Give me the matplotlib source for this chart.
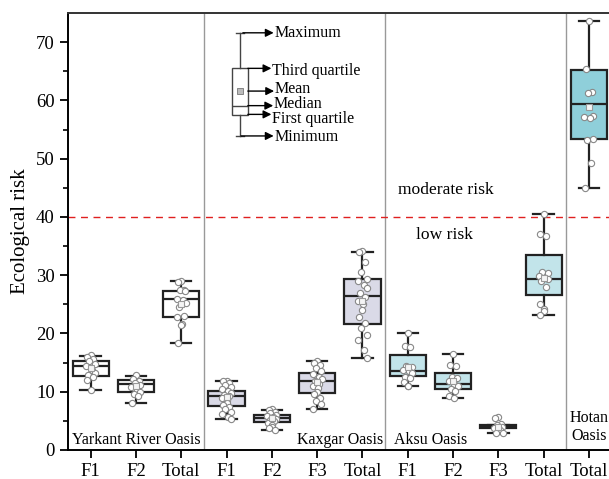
import matplotlib
matplotlib.use("Agg")
import matplotlib.pyplot as plt
import numpy as np

plt.rcParams['font.family'] = ['Liberation Serif', 'DejaVu Serif']

# groups: label, oasis, box stats (whislo, q1, med, q3, whishi, mean), sample points
labels = ["F1", "F2", "Total", "F1", "F2", "F3", "Total", "F1", "F2", "F3", "Total", "Total"]
oasis = ["Yarkant", "Yarkant", "Yarkant", "Kaxgar", "Kaxgar", "Kaxgar", "Kaxgar",
         "Aksu", "Aksu", "Aksu", "Aksu", "Hotan"]
whislo = [10.3, 8.0, 18.3, 5.4, 3.4, 7.0, 15.8, 10.9, 8.9, 2.9, 23.1, 45.0]
q1 = [12.7, 10.0, 22.8, 7.5, 4.8, 9.7, 21.7, 12.7, 10.5, 3.7, 26.6, 53.4]
med = [14.5, 11.3, 25.9, 9.2, 5.5, 11.8, 26.5, 13.6, 11.3, 3.9, 29.4, 59.3]
q3 = [15.3, 12.0, 27.3, 10.2, 6.0, 13.3, 29.3, 16.3, 13.3, 4.3, 33.4, 65.3]
whishi = [16.2, 12.7, 29.0, 11.8, 6.9, 15.2, 34.0, 20.1, 16.5, 4.3, 40.5, 73.6]
means = [14.1, 11.0, 25.0, 9.1, 5.5, 11.7, 25.6, 14.3, 11.9, 4.0, 29.5, 58.8]

points = [
    [16.3, 16.0, 15.6, 15.3, 14.8, 14.4, 13.8, 13.3, 12.9, 12.6, 12.0, 10.3],
    [12.8, 12.2, 11.9, 11.5, 11.2, 10.8, 10.3, 10.0, 9.6, 9.3, 8.0],
    [29.0, 28.9, 27.5, 27.4, 27.3, 26.0, 25.8, 25.3, 24.5, 23.0, 22.8, 21.6, 21.5, 18.3],
    [11.9, 11.8, 11.5, 11.2, 10.8, 10.5, 10.2, 9.8, 9.5, 9.2, 8.9, 8.5, 8.1, 7.8, 7.4,
     7.0, 6.6, 6.2, 5.7, 5.4],
    [7.0, 6.9, 6.6, 6.3, 6.0, 5.8, 5.6, 5.4, 5.2, 4.9, 4.6, 4.3, 4.0, 3.7, 3.4],
    [15.2, 15.0, 14.6, 14.1, 13.6, 13.0, 12.6, 12.2, 11.8, 11.4, 11.0, 10.6, 10.0, 9.6,
     9.0, 8.4, 7.9, 7.0],
    [34.1, 33.9, 32.3, 30.6, 29.4, 29.0, 28.3, 27.8, 27.0, 26.2, 25.6, 25.0, 24.0, 22.8,
     21.8, 21.0, 19.7, 18.9, 17.2, 15.8],
    [20.1, 17.8, 17.7, 14.5, 14.2, 13.8, 13.5, 13.2, 12.6, 12.3, 11.7, 11.0, 10.9],
    [16.5, 14.6, 14.5, 12.5, 12.3, 11.9, 11.4, 11.0, 10.5, 10.1, 9.2, 8.9],
    [5.6, 5.5, 4.5, 4.3, 4.0, 3.8, 3.5, 3.0, 2.9],
    [40.5, 37.0, 36.8, 30.5, 30.3, 29.9, 29.6, 29.4, 29.0, 28.0, 25.0, 24.2, 23.8, 23.1],
    [73.6, 65.4, 61.5, 61.3, 57.3, 57.2, 57.0, 53.4, 53.2, 49.2, 45.0],
]

fills = {"Yarkant": "white", "Kaxgar": "#dadae7", "Aksu": "#c2e4ea", "Hotan": "#8fcfda"}

fig = plt.figure(figsize=(6.09, 4.79), dpi=100)
ax = fig.add_axes([68/609, 29/479, 543.6/609, 437/479])

pos = np.arange(len(labels))
stats = []
for i in range(len(labels)):
    stats.append(dict(whislo=whislo[i], q1=q1[i], med=med[i], q3=q3[i],
                      whishi=whishi[i], mean=means[i], fliers=[]))

edge = "#222222"
bp = ax.bxp(stats, positions=pos, widths=0.8, capwidths=0.45, patch_artist=True,
            showmeans=False, showfliers=False,
            boxprops=dict(edgecolor=edge, linewidth=1.6),
            whiskerprops=dict(color=edge, linewidth=1.6),
            capprops=dict(color=edge, linewidth=1.6),
            medianprops=dict(color=edge, linewidth=1.6))
for b, o in zip(bp['boxes'], oasis):
    b.set_facecolor(fills[o])

jit = np.array([0.0, -0.07, 0.06, -0.03, 0.09, -0.1, 0.03, 0.1, -0.05, 0.05, -0.09, 0.01])
for i, pts in enumerate(points):
    off = np.resize(jit, len(pts))
    ax.plot(pos[i] + off, pts, 'o', ms=4.5, mfc='white', mec='#888888', mew=0.8, zorder=4)
    ax.plot(pos[i], means[i], 's', ms=5, mfc='#f4f4f4', mec='#999999', mew=0.8, zorder=5)

# separators and threshold
for xs in [2.5, 6.5, 10.5]:
    ax.axvline(xs, color='#999999', lw=1)
ax.axhline(40, color='#e02020', lw=1, ls=(0, (5, 4)))

ax.text(7.84, 44.6, "moderate risk", ha='center', va='center', fontsize=12.6)
ax.text(7.82, 36.9, "low risk", ha='center', va='center', fontsize=12.6)

ax.text(1.0, 1.8, "Yarkant River Oasis", ha='center', va='center', fontsize=11.5)
ax.text(5.5, 1.8, "Kaxgar Oasis", ha='center', va='center', fontsize=11.5)
ax.text(6.7, 1.8, "Aksu Oasis", ha='left', va='center', fontsize=11.5)
ax.text(11.0, 4.0, "Hotan\nOasis", ha='center', va='center', fontsize=11.5,
        linespacing=1.15)

# schematic legend box
leg = [dict(whislo=53.9, q1=57.5, med=59.1, q3=65.5, whishi=71.6, mean=61.6, fliers=[])]
lb = ax.bxp(leg, positions=[3.29], widths=0.35, capwidths=0.17, patch_artist=True,
            showfliers=False,
            boxprops=dict(edgecolor='#444444', linewidth=1, facecolor='white'),
            whiskerprops=dict(color='#444444', linewidth=1),
            capprops=dict(color='#444444', linewidth=1),
            medianprops=dict(color='#444444', linewidth=1))
ax.plot(3.29, 61.6, 's', ms=4, mfc='#bbbbbb', mec='#777777', mew=0.6)
ann = [("Maximum", 71.6, 71.6, 3.36, 4.04),
       ("Third quartile", 65.5, 65.1, 3.47, 3.99),
       ("Mean", 61.6, 61.9, 3.47, 4.05),
       ("Median", 59.1, 59.3, 3.47, 4.03),
       ("First quartile", 57.6, 56.8, 3.47, 3.99),
       ("Minimum", 53.9, 53.7, 3.32, 4.04)]
for txt, ya, yt, x0, x1 in ann:
    ax.annotate("", xy=(x1, ya), xytext=(x0, ya),
                arrowprops=dict(arrowstyle='-|>', color='black', lw=1,
                                mutation_scale=12, shrinkA=0, shrinkB=0))
    ax.text(x1 + 0.01, yt, txt, ha='left', va='center', fontsize=11.5)

ax.set_xlim(-0.5, 11.5)
ax.set_ylim(0, 75)
ax.set_xticks(pos)
ax.set_xticklabels(labels, fontsize=13.5)
ax.set_yticks(np.arange(0, 71, 10))
ax.set_yticks(np.arange(0, 75, 5), minor=True)
ax.tick_params(axis='y', labelsize=13.5, width=1.3, length=6)
ax.tick_params(axis='y', which='minor', width=1.2, length=3.5)
ax.tick_params(axis='x', width=1.3, length=6)
ax.set_ylabel("Ecological risk", fontsize=15)
for s in ['left', 'bottom', 'top']:
    ax.spines[s].set_linewidth(1.4)
ax.spines['top'].set_color('#333333')
ax.spines['right'].set_visible(False)

fig.savefig("out.png", dpi=100)
